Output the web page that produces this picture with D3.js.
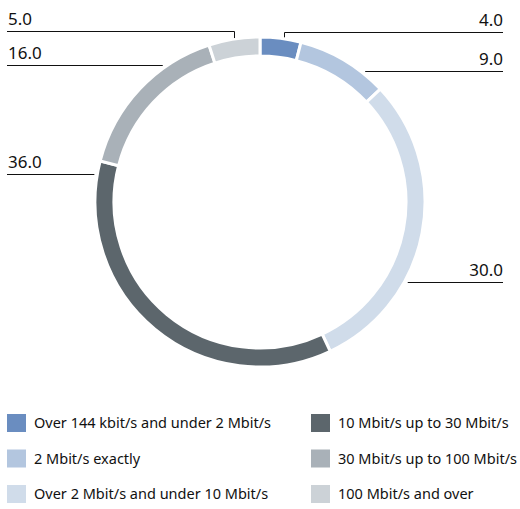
<!DOCTYPE html>
<html>
<head>
<meta charset="utf-8">
<script src="https://cdn.jsdelivr.net/npm/d3@7"></script>
<style>
  html, body { margin: 0; padding: 0; background: #fff; }
  svg { display: block; }
  text { font-family: "Noto Sans", "Open Sans", sans-serif; fill: #111; }
</style>
</head>
<body>
<script>
// Share of connections by bandwidth class (percent)
const categories = [
  "Over 144 kbit/s and under 2 Mbit/s",
  "2 Mbit/s exactly",
  "Over 2 Mbit/s and under 10 Mbit/s",
  "10 Mbit/s up to 30 Mbit/s",
  "30 Mbit/s up to 100 Mbit/s",
  "100 Mbit/s and over"
];
const values = [4.0, 9.0, 30.0, 36.0, 16.0, 5.0];
const colors = ["#6a8dc0", "#b3c6df", "#d0dcea", "#5c666c", "#a9b1b8", "#ccd2d7"];

const width = 520, height = 509;
const cx = 260, cy = 202;
const outerR = 165, innerR = 146;

const svg = d3.select("body").append("svg")
  .attr("width", width).attr("height", height);

const pie = d3.pie().sort(null).value(d => d)(values);
const arc = d3.arc().innerRadius(innerR).outerRadius(outerR);

const g = svg.append("g").attr("transform", `translate(${cx},${cy})`);

g.selectAll("path.slice")
  .data(pie)
  .join("path")
  .attr("class", "slice")
  .attr("d", arc)
  .attr("fill", (d, i) => colors[i])
  .attr("stroke", "#fff")
  .attr("stroke-width", 3);

// Label placement: side, height of the leader line, and whether the
// leader drops vertically onto the slice's middle (top slices).
const labelSide = ["right", "right", "right", "left", "left", "left"];
const labelY    = [32, 71, 282, 174, 65, 31];
const labelDrop = [true, false, false, false, false, true];

const leftX = 7, rightX = 503, leaderR = 168;
const fmt = d3.format(".1f");

pie.forEach((d, i) => {
  const y = labelY[i];
  const right = labelSide[i] === "right";
  const edgeX = right ? rightX : leftX;
  let innerX;
  const path = d3.path();
  if (labelDrop[i]) {
    const mid = (d.startAngle + d.endAngle) / 2;
    innerX = cx + outerR * Math.sin(mid) + (right ? 3 : 0);
    const yArc = cy - outerR * Math.cos(mid);
    path.moveTo(edgeX, y + 0.5);
    path.lineTo(Math.round(innerX) + 0.5, y + 0.5);
    path.lineTo(Math.round(innerX) + 0.5, yArc - 1);
  } else {
    const dy = y - cy;
    const dx = Math.sqrt(leaderR * leaderR - dy * dy);
    innerX = right ? cx + dx : cx - dx;
    path.moveTo(edgeX, y + 0.5);
    path.lineTo(innerX, y + 0.5);
  }
  svg.append("path")
    .attr("d", path.toString())
    .attr("fill", "none")
    .attr("stroke", "#111")
    .attr("stroke-width", 1);
  svg.append("text")
    .attr("x", edgeX + (right ? 0 : 1))
    .attr("y", y - 6)
    .attr("text-anchor", right ? "end" : "start")
    .attr("font-size", 17)
    .text(fmt(values[i]));
});

// Legend: two columns of three rows
const legend = svg.append("g");
const colX = [7, 311], rowY = [414, 449.5, 485], sw = 19, sh = 18;
categories.forEach((c, i) => {
  const col = Math.floor(i / 3), row = i % 3;
  const x = colX[col], y = rowY[row];
  legend.append("rect")
    .attr("x", x).attr("y", y)
    .attr("width", sw).attr("height", sh)
    .attr("fill", colors[i]);
  legend.append("text")
    .attr("x", x + 27).attr("y", y + sh / 2)
    .attr("dy", "0.35em")
    .attr("font-size", 14.5)
    .text(c);
});
</script>
</body>
</html>
